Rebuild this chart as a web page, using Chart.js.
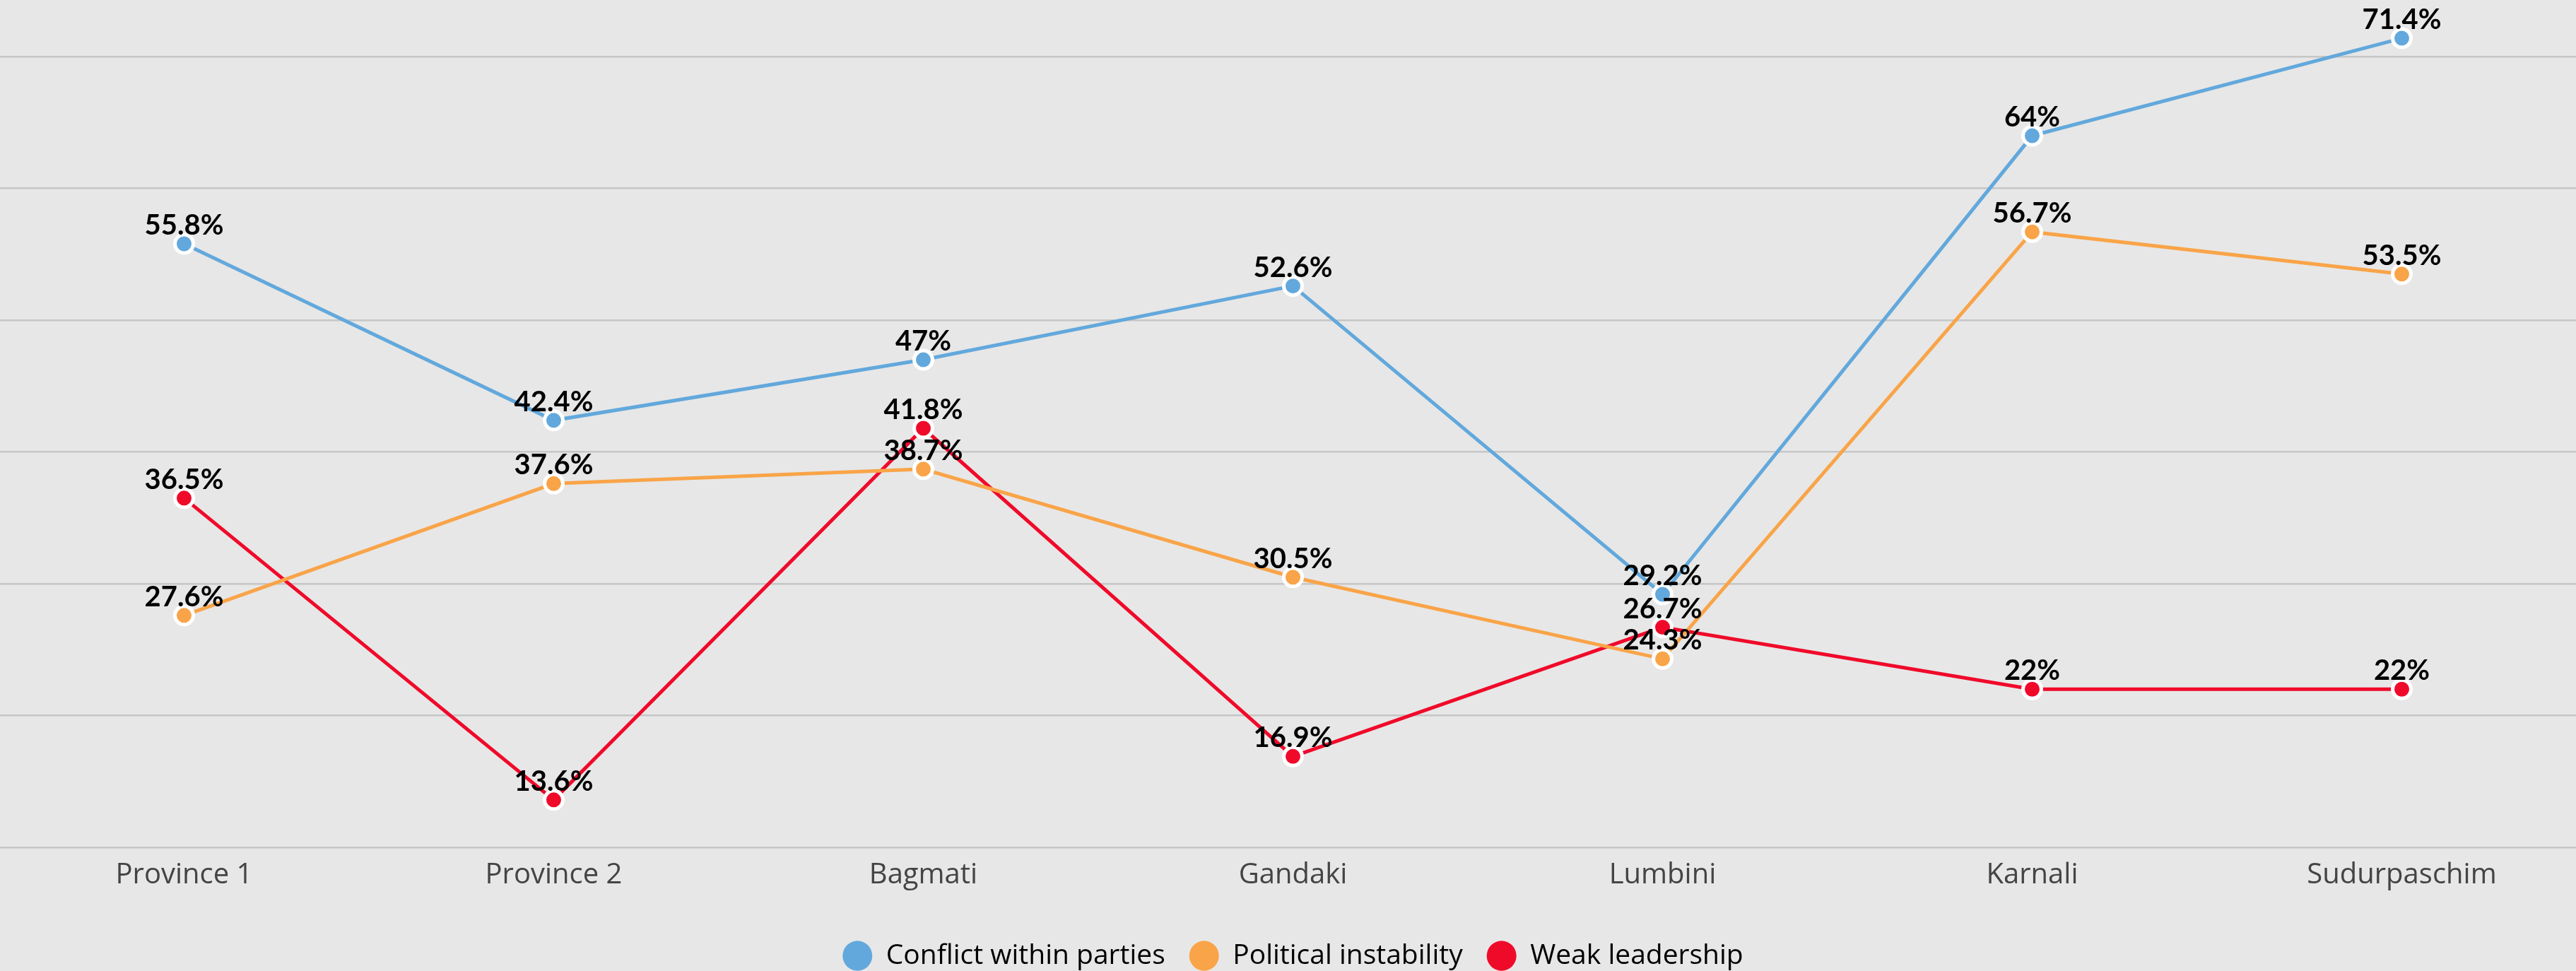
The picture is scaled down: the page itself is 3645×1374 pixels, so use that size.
<!DOCTYPE html>
<html>
<head>
<meta charset="utf-8">
<script src="https://cdn.jsdelivr.net/npm/chart.js@4"></script>
<style>
  html, body { margin: 0; padding: 0; background: #e7e7e7; overflow: hidden; }
  #wrap { width: 3645px; height: 1374px; overflow: hidden; position: relative; }
  /* chart.js keeps room for the point radius around the plot, shift it out of view */
  #chart { position: absolute; left: -19px; top: -18px; }
</style>
</head>
<body>
<div id="wrap"><canvas id="chart" width="3697" height="1406"></canvas></div>
<script>
// Provinces on the x axis
const provinces = ['Province 1', 'Province 2', 'Bagmati', 'Gandaki', 'Lumbini', 'Karnali', 'Sudurpaschim'];

// Percent of respondents per reason
const conflictWithinParties = [55.8, 42.4, 47, 52.6, 29.2, 64, 71.4];
const politicalInstability = [27.6, 37.6, 38.7, 30.5, 24.3, 56.7, 53.5];
const weakLeadership = [36.5, 13.6, 41.8, 16.9, 26.7, 22, 22];

const seriesNames = ['Conflict within parties', 'Political instability', 'Weak leadership'];
const seriesColors = ['#62a8dc', '#f9a448', '#f00a2a'];

const FONT = '"Open Sans", Lato, sans-serif';
const LABEL_FONT = 'Lato, "Open Sans", sans-serif';

function makeDataset(label, data, color) {
    return {
        label: label,
        data: data,
        borderColor: color,
        backgroundColor: color,
        borderWidth: 5,
        pointRadius: 13,
        pointHoverRadius: 13,
        pointBackgroundColor: color,
        pointBorderColor: '#ffffff',
        pointBorderWidth: 5,
        tension: 0
    };
}

// value labels above each point
const pointLabels = {
    id: 'pointLabels',
    afterDatasetsDraw(chart) {
        const ctx = chart.ctx;
        ctx.save();
        ctx.font = 'bold 40px ' + LABEL_FONT;
        ctx.fillStyle = '#000000';
        ctx.textAlign = 'center';
        ctx.textBaseline = 'alphabetic';
        chart.data.datasets.forEach((ds, i) => {
            const meta = chart.getDatasetMeta(i);
            meta.data.forEach((pt, j) => {
                ctx.fillText(ds.data[j] + '%', pt.x, pt.y - 13);
            });
        });
        ctx.restore();
    }
};

const bg = {
    id: 'bg',
    beforeDraw(chart) {
        const ctx = chart.ctx;
        ctx.save();
        ctx.fillStyle = '#e7e7e7';
        ctx.fillRect(0, 0, chart.width, chart.height);
        ctx.restore();
    }
};

new Chart(document.getElementById('chart'), {
    type: 'line',
    data: {
        labels: provinces,
        datasets: [
            makeDataset(seriesNames[0], conflictWithinParties, seriesColors[0]),
            makeDataset(seriesNames[1], politicalInstability, seriesColors[1]),
            makeDataset(seriesNames[2], weakLeadership, seriesColors[2])
        ]
    },
    options: {
        responsive: false,
        animation: false,
        devicePixelRatio: 1,
        layout: { padding: { top: 0, left: 0, right: 0, bottom: 6 } },
        scales: {
            x: {
                offset: true,
                grid: { display: false, drawTicks: false },
                border: { display: false },
                ticks: {
                    color: '#444444',
                    font: { family: FONT, size: 40 },
                    padding: 16
                },
                afterFit(scale) { scale.height += 20; }
            },
            y: {
                min: 10,
                max: 74.3,
                grid: {
                    drawTicks: false,
                    lineWidth: 2.5,
                    color: (c) => (c.tick && Number.isInteger(c.tick.value / 10) ? '#c6c6c6' : 'rgba(0,0,0,0)')
                },
                border: { display: false },
                ticks: { display: false, stepSize: 10 }
            }
        },
        plugins: {
            tooltip: { enabled: false },
            legend: {
                position: 'bottom',
                labels: {
                    usePointStyle: true,
                    pointStyle: 'circle',
                    pointStyleWidth: 42,
                    boxHeight: 30,
                    padding: 34,
                    color: '#444444',
                    font: { family: FONT, size: 39 },
                    generateLabels: (chart) => chart.data.datasets.map((ds, i) => ({
                        text: ds.label,
                        fillStyle: ds.borderColor,
                        strokeStyle: ds.borderColor,
                        lineWidth: 0,
                        pointStyle: 'circle',
                        datasetIndex: i,
                        hidden: false
                    }))
                }
            }
        }
    },
    plugins: [bg, pointLabels]
});
</script>
</body>
</html>
